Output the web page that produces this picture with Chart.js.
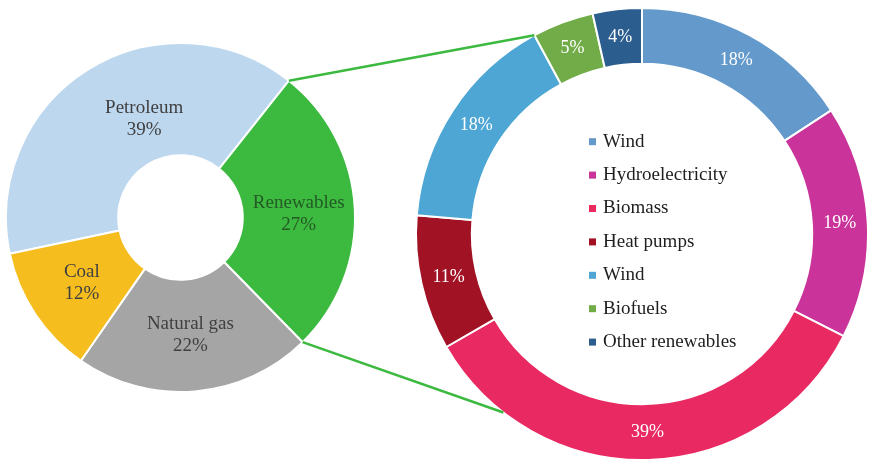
<!DOCTYPE html>
<html>
<head>
<meta charset="utf-8">
<script src="https://cdn.jsdelivr.net/npm/chart.js@4.4.1/dist/chart.umd.min.js"></script>
<style>
  html, body { margin: 0; padding: 0; background: #fff; }
  #wrap { position: relative; width: 869px; height: 463px; }
  #wrap canvas { position: absolute; left: 0; top: 0; }
</style>
</head>
<body>
<div id="wrap">
  <canvas id="mixChart" width="869" height="463"></canvas>
  <canvas id="renewChart" width="869" height="463"></canvas>
</div>
<script>
// energy mix (left ring)
const mixLabels = ["Petroleum", "Renewables", "Natural gas", "Coal"];
const mixValues = [39, 27, 22, 12];
const mixColors = ["#BDD7EE", "#3CB93F", "#A5A5A5", "#F6BD1F"];

// renewables breakdown (right ring)
const renewLabels = ["Wind", "Hydroelectricity", "Biomass", "Heat pumps", "Wind", "Biofuels", "Other renewables"];
const renewValues = [18, 19, 39, 11, 18, 5, 4];
const renewColors = ["#6399CB", "#C9339A", "#E92A62", "#A11224", "#4DA6D4", "#71AC48", "#2B5D8F"];

const serif = "'Liberation Serif', 'Times New Roman', serif";

// text inside each slice
const sliceLabels = {
  id: "sliceLabels",
  afterDatasetsDraw(chart, args, opts) {
    const ctx = chart.ctx;
    const meta = chart.getDatasetMeta(0);
    const values = chart.data.datasets[0].data;
    ctx.save();
    ctx.font = opts.font;
    ctx.textAlign = "center";
    ctx.textBaseline = "middle";
    meta.data.forEach((arc, i) => {
      const p = arc.getCenterPoint();
      const shift = (opts.shift && opts.shift[i]) || [0, 0];
      const lines = opts.withName ? [chart.data.labels[i], values[i] + "%"] : [values[i] + "%"];
      ctx.fillStyle = Array.isArray(opts.color) ? opts.color[i] : opts.color;
      lines.forEach((t, k) => {
        const dy = (k - (lines.length - 1) / 2) * opts.lineHeight;
        ctx.fillText(t, p.x + shift[0], p.y + shift[1] + dy);
      });
    });
    ctx.restore();
  }
};

// legend drawn in the hole of the right ring
const centerLegend = {
  id: "centerLegend",
  afterDraw(chart, args, opts) {
    const ctx = chart.ctx;
    const arc = chart.getDatasetMeta(0).data[0];
    const colors = chart.data.datasets[0].backgroundColor;
    ctx.save();
    ctx.font = opts.font;
    ctx.textAlign = "left";
    ctx.textBaseline = "middle";
    chart.data.labels.forEach((lab, i) => {
      const y = arc.y + opts.top + i * opts.rowGap;
      ctx.fillStyle = colors[i];
      ctx.fillRect(arc.x + opts.left, y - 3.5, 7, 7);
      ctx.fillStyle = opts.color;
      ctx.fillText(lab, arc.x + opts.left + 14, y);
    });
    ctx.restore();
  }
};

const mixChart = new Chart(document.getElementById("mixChart"), {
  type: "doughnut",
  data: {
    labels: mixLabels,
    datasets: [{
      data: mixValues,
      backgroundColor: mixColors,
      borderColor: "#ffffff",
      borderWidth: 2
    }]
  },
  options: {
    responsive: false,
    animation: false,
    rotation: 258,
    cutout: "35.7%",
    layout: { padding: { left: 5, right: 513, top: 42, bottom: 70 } },
    plugins: {
      legend: { display: false },
      tooltip: { enabled: false },
      sliceLabels: {
        font: "19px " + serif,
        lineHeight: 22,
        withName: true,
        color: ["#404040", "#235A25", "#404040", "#404040"],
        shift: [[26, 2], [0, 3], [0, 0], [0, 0]]
      }
    }
  },
  plugins: [sliceLabels]
});

// green lines joining the Renewables slice to the right ring
const connector = {
  id: "connector",
  afterDraw(chart, args, opts) {
    const ctx = chart.ctx;
    const src = mixChart.getDatasetMeta(0).data[1];
    const dst = chart.getDatasetMeta(0).data;
    const at = (a, ang) => ({ x: a.x + Math.cos(ang) * a.outerRadius, y: a.y + Math.sin(ang) * a.outerRadius });
    const bio = dst[2];
    const lines = [
      [at(src, src.startAngle), at(dst[5], dst[5].startAngle)],
      [at(src, src.endAngle), at(bio, bio.startAngle + opts.lowFrac * (bio.endAngle - bio.startAngle))]
    ];
    ctx.save();
    ctx.strokeStyle = opts.color;
    ctx.lineWidth = opts.width;
    lines.forEach(([a, b]) => {
      ctx.beginPath();
      ctx.moveTo(a.x, a.y);
      ctx.lineTo(b.x, b.y);
      ctx.stroke();
    });
    ctx.restore();
  }
};

new Chart(document.getElementById("renewChart"), {
  type: "doughnut",
  data: {
    labels: renewLabels,
    datasets: [{
      data: renewValues,
      backgroundColor: renewColors,
      borderColor: "#ffffff",
      borderWidth: 2
    }]
  },
  options: {
    responsive: false,
    animation: false,
    rotation: 0,
    cutout: "75.3%",
    layout: { padding: { left: 415, right: 0, top: 7, bottom: 2 } },
    plugins: {
      legend: { display: false },
      tooltip: { enabled: false },
      sliceLabels: {
        font: "18px " + serif,
        lineHeight: 20,
        withName: false,
        color: "#ffffff"
      },
      centerLegend: {
        font: "19px " + serif,
        color: "#1e1e1e",
        left: -53,
        top: -92.3,
        rowGap: 33.4
      },
      connector: { color: "#3CB93F", width: 2.5, lowFrac: 0.82 }
    }
  },
  plugins: [sliceLabels, centerLegend, connector]
});
</script>
</body>
</html>
